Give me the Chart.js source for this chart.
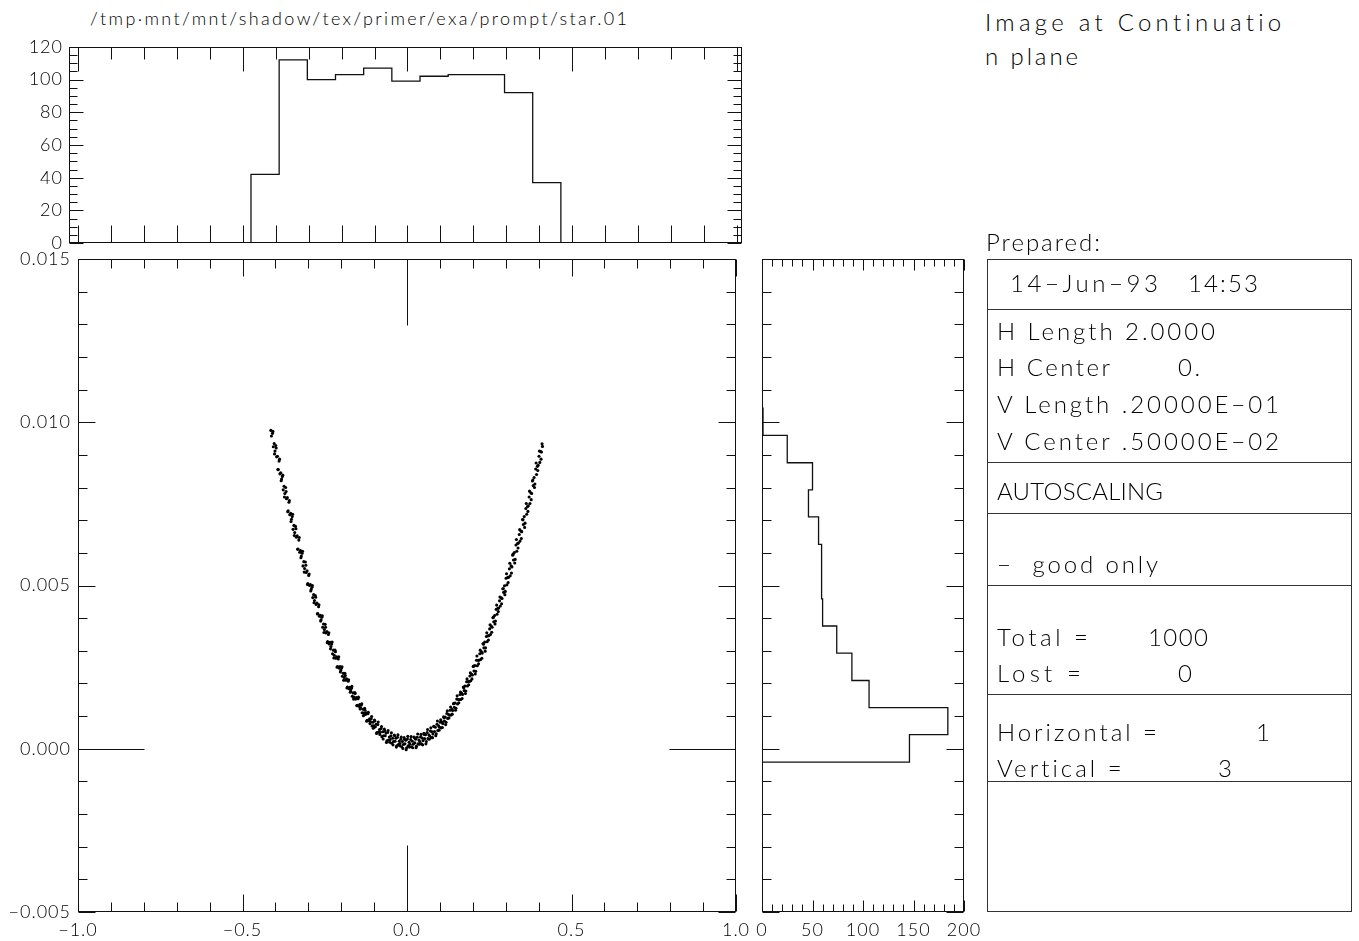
<!DOCTYPE html>
<html>
<head>
<meta charset="utf-8">
<title>star.01 - Image at Continuation plane</title>
<script src="https://cdn.jsdelivr.net/npm/chart.js@4.4.1/dist/chart.umd.min.js"></script>
<style>
  html, body { margin: 0; padding: 0; background: #fff; }
  body {
    width: 1359px; height: 941px; position: relative; overflow: hidden;
    font-family: Lato, "Noto Sans", "DejaVu Sans", sans-serif; font-weight: 300; color: #000;
  }
  canvas { position: absolute; }
  .t { position: absolute; white-space: pre; line-height: 1; transform: translateY(-50%); }
  .panel { position: absolute; left: 987px; top: 259px; width: 365px; height: 653px;
           border: 1px solid #333; box-sizing: border-box; }
  .sep { position: absolute; left: 987px; width: 365px; height: 0; border-top: 1px solid #333; }
</style>
</head>
<body>

<canvas id="topHist" width="760" height="230" style="left:0;top:30px"></canvas>
<canvas id="mainPlot" width="760" height="701" style="left:0;top:240px"></canvas>
<canvas id="sideHist" width="260" height="701" style="left:740px;top:240px"></canvas>

<!-- titles -->
<div class="t" style="left:90px;top:18px;font-size:18px" data-w="537">/tmp·mnt/mnt/shadow/tex/primer/exa/prompt/star.01</div>
<div class="t" style="left:985px;top:22px;font-size:24px" data-w="297">Image at Continuatio</div>
<div class="t" style="left:985px;top:56px;font-size:24px" data-w="93">n plane</div>
<div class="t" style="left:986px;top:242px;font-size:24px" data-w="114">Prepared:</div>

<!-- info panel -->
<div class="panel"></div>
<div class="sep" style="top:309px"></div>
<div class="sep" style="top:462px"></div>
<div class="sep" style="top:513px"></div>
<div class="sep" style="top:585px"></div>
<div class="sep" style="top:694px"></div>
<div class="sep" style="top:781px"></div>

<div class="t" style="left:1010px;top:283px;font-size:24px" data-w="148">14−Jun−93</div>
<div class="t" style="left:1188px;top:283px;font-size:24px" data-w="70">14:53</div>
<div class="t" style="left:997px;top:331px;font-size:24px" data-w="218">H Length 2.0000</div>
<div class="t" style="left:997px;top:367px;font-size:24px" data-w="113">H Center</div>
<div class="t" style="left:1178px;top:367px;font-size:24px" data-w="22">0.</div>
<div class="t" style="left:997px;top:404px;font-size:24px" data-w="282">V Length .20000E−01</div>
<div class="t" style="left:997px;top:441px;font-size:24px" data-w="282">V Center .50000E−02</div>
<div class="t" style="left:997px;top:491px;font-size:24px" data-w="166">AUTOSCALING</div>
<div class="t" style="left:997px;top:564px;font-size:24px" data-w="161">−  good only</div>
<div class="t" style="left:997px;top:637px;font-size:24px" data-w="91">Total =</div>
<div class="t" style="left:1148px;top:637px;font-size:24px" data-w="60">1000</div>
<div class="t" style="left:997px;top:673px;font-size:24px" data-w="84">Lost =</div>
<div class="t" style="left:1178px;top:673px;font-size:24px">0</div>
<div class="t" style="left:997px;top:732px;font-size:24px" data-w="160">Horizontal =</div>
<div class="t" style="left:1256px;top:732px;font-size:24px">1</div>
<div class="t" style="left:997px;top:768px;font-size:24px" data-w="125">Vertical =</div>
<div class="t" style="left:1218px;top:768px;font-size:24px">3</div>

<script>
// top histogram (horizontal coordinate), bin edges and counts
const topEdges = [-0.475, -0.3895, -0.304, -0.2185, -0.133, -0.0475, 0.038, 0.1235, 0.209, 0.2945, 0.380, 0.4655];
const topCounts = [42, 112, 100, 103, 107, 99, 102, 103, 103, 92, 37];

// side histogram (vertical coordinate), bin edges bottom -> top and counts
const sideEdges = [-0.00041, 0.00043, 0.00126, 0.00209, 0.00293, 0.00376, 0.00459, 0.00543,
                   0.00626, 0.00710, 0.00793, 0.00876, 0.00960, 0.01043];
const sideCounts = [146, 184, 106, 89, 74, 60, 59, 59, 56, 46, 50, 25, 1];

// tick labels
const mainXTicks = [-1, -0.5, 0, 0.5, 1];
const mainYTicks = [-0.005, 0, 0.005, 0.010, 0.015];
const topYTicks = [0, 20, 40, 60, 80, 100, 120];
const sideXTicks = [0, 50, 100, 150, 200];

// ray positions, [x, y]
const leftBranch = [
  [-0.4138,0.00975],[-0.4121,0.00958],
  [-0.4088,0.00966],[-0.4063,0.00925],[-0.4037,0.00935],[-0.4012,0.00912],
  [-0.3988,0.00929],[-0.3963,0.00894],[-0.3937,0.00896],[-0.3912,0.00855],
  [-0.3888,0.00881],[-0.3863,0.00842],[-0.3837,0.00845],[-0.3812,0.00826],
  [-0.3788,0.00834],[-0.3763,0.00793],[-0.3737,0.00804],[-0.3712,0.00782],
  [-0.3688,0.00800],[-0.3663,0.00766],[-0.3637,0.00769],[-0.3612,0.00729],
  [-0.3588,0.00755],[-0.3563,0.00717],[-0.3537,0.00721],[-0.3512,0.00703],
  [-0.3488,0.00711],[-0.3463,0.00672],[-0.3437,0.00684],[-0.3412,0.00662],
  [-0.3388,0.00681],[-0.3363,0.00648],[-0.3337,0.00652],[-0.3312,0.00612],
  [-0.3288,0.00639],[-0.3263,0.00602],[-0.3237,0.00607],[-0.3212,0.00590],
  [-0.3188,0.00599],[-0.3163,0.00560],[-0.3137,0.00573],[-0.3112,0.00552],
  [-0.3088,0.00572],[-0.3063,0.00540],[-0.3037,0.00545],[-0.3012,0.00506],
  [-0.2988,0.00531],[-0.2963,0.00500],[-0.2937,0.00503],[-0.2912,0.00488],
  [-0.2888,0.00495],[-0.2863,0.00463],[-0.2837,0.00472],[-0.2812,0.00454],
  [-0.2788,0.00469],[-0.2763,0.00442],[-0.2737,0.00446],[-0.2712,0.00414],
  [-0.2688,0.00435],[-0.2663,0.00406],[-0.2637,0.00409],[-0.2612,0.00395],
  [-0.2588,0.00403],[-0.2563,0.00372],[-0.2537,0.00382],[-0.2512,0.00365],
  [-0.2488,0.00381],[-0.2463,0.00355],[-0.2437,0.00359],[-0.2412,0.00328],
  [-0.2388,0.00350],[-0.2363,0.00321],[-0.2337,0.00326],[-0.2312,0.00313],
  [-0.2288,0.00321],[-0.2263,0.00291],[-0.2237,0.00302],[-0.2212,0.00286],
  [-0.2188,0.00302],[-0.2163,0.00277],[-0.2137,0.00282],[-0.2112,0.00252],
  [-0.2088,0.00275],[-0.2063,0.00247],[-0.2037,0.00252],[-0.2012,0.00240],
  [-0.1988,0.00247],[-0.1963,0.00222],[-0.1937,0.00231],[-0.1912,0.00218],
  [-0.1888,0.00231],[-0.1863,0.00210],[-0.1837,0.00214],[-0.1812,0.00189],
  [-0.1788,0.00207],[-0.1763,0.00184],[-0.1737,0.00188],[-0.1712,0.00178],
  [-0.1688,0.00185],[-0.1663,0.00161],[-0.1637,0.00171],[-0.1612,0.00158],
  [-0.1588,0.00172],[-0.1563,0.00152],[-0.1537,0.00157],[-0.1512,0.00133],
  [-0.1488,0.00153],[-0.1463,0.00130],[-0.1437,0.00135],[-0.1412,0.00126],
  [-0.1388,0.00134],[-0.1363,0.00110],[-0.1337,0.00121],[-0.1312,0.00109],
  [-0.1288,0.00124],[-0.1263,0.00105],[-0.1237,0.00110],[-0.1212,0.00087],
  [-0.1188,0.00107],[-0.1163,0.00086],[-0.1137,0.00092],[-0.1112,0.00083],
  [-0.1088,0.00092],[-0.1063,0.00070],[-0.1037,0.00081],[-0.1012,0.00070],
  [-0.0988,0.00088],[-0.0963,0.00067],[-0.0937,0.00075],[-0.0912,0.00050],
  [-0.0888,0.00074],[-0.0863,0.00051],[-0.0837,0.00059],[-0.0812,0.00051],
  [-0.0788,0.00062],[-0.0763,0.00037],[-0.0737,0.00052],[-0.0712,0.00040],
  [-0.0688,0.00060],[-0.0663,0.00040],[-0.0637,0.00048],[-0.0612,0.00024],
  [-0.0588,0.00050],[-0.0563,0.00027],[-0.0537,0.00036],[-0.0512,0.00028],
  [-0.0488,0.00040],[-0.0463,0.00017],[-0.0437,0.00032],[-0.0412,0.00022],
  [-0.0388,0.00042],[-0.0363,0.00023],[-0.0337,0.00032],[-0.0312,0.00009],
  [-0.0288,0.00035],[-0.0263,0.00013],[-0.0237,0.00023],[-0.0212,0.00016],
  [-0.0188,0.00029],[-0.0163,0.00006],[-0.0137,0.00022],[-0.0112,0.00013],
  [-0.0088,0.00034],[-0.0063,0.00015],[-0.0037,0.00026],[-0.0012,0.00003],
  // second pass, the wider part of the band
  [-0.4075,0.00972],[-0.4025,0.00903],[-0.3975,0.00921],[-0.3925,0.00855],
  [-0.3875,0.00887],[-0.3825,0.00821],[-0.3775,0.00838],[-0.3725,0.00771],
  [-0.3675,0.00788],[-0.3625,0.00726],[-0.3575,0.00760],[-0.3525,0.00696],
  [-0.3475,0.00718],[-0.3425,0.00653],[-0.3375,0.00674],[-0.3325,0.00611],
  [-0.3275,0.00647],[-0.3225,0.00585],[-0.3175,0.00605],[-0.3125,0.00541],
  [-0.3075,0.00562],[-0.3025,0.00503],[-0.2975,0.00535],[-0.2925,0.00483],
  [-0.2875,0.00500],[-0.2825,0.00447],[-0.2775,0.00464],[-0.2725,0.00413],
  [-0.2675,0.00441],[-0.2625,0.00391],[-0.2575,0.00407],[-0.2525,0.00356],
  [-0.2475,0.00372],[-0.2425,0.00325],[-0.2375,0.00355],[-0.2325,0.00306],
  [-0.2275,0.00327],[-0.2225,0.00278],[-0.2175,0.00297],[-0.2125,0.00250],
  [-0.2075,0.00282],[-0.2025,0.00235],[-0.1975,0.00251],[-0.1925,0.00210],
  [-0.1875,0.00224],[-0.1825,0.00186],[-0.1775,0.00211],[-0.1725,0.00173],
  [-0.1675,0.00191],[-0.1625,0.00152],[-0.1575,0.00169],[-0.1525,0.00132],
  [-0.1475,0.00158],[-0.1425,0.00122],[-0.1375,0.00138],[-0.1325,0.00101],
  [-0.1275,0.00118],[-0.1225,0.00084],[-0.1175,0.00112],[-0.1125,0.00077],
  [-0.1075,0.00099],[-0.1025,0.00063],[-0.0975,0.00085],[-0.0925,0.00047],
  [-0.0875,0.00082],[-0.0825,0.00044],[-0.0775,0.00068],[-0.0725,0.00030],
  [-0.0675,0.00054],[-0.0625,0.00019],[-0.0575,0.00056],[-0.0525,0.00020],
  [-0.0475,0.00049],[-0.0425,0.00012],[-0.0375,0.00040],[-0.0325,0.00005],
  [-0.0275,0.00043],[-0.0225,0.00009],[-0.0175,0.00036],[-0.0125,0.00001],
  [-0.0075,0.00029],[-0.0025,-0.00003]
];
const rightBranch = [
  [0.0012,0.00030],[0.0037,0.00009],[0.0063,0.00020],[0.0088,0.00014],
  [0.0112,0.00028],[0.0137,0.00006],[0.0163,0.00023],[0.0188,0.00014],
  [0.0212,0.00036],[0.0237,0.00018],[0.0263,0.00029],[0.0288,0.00008],
  [0.0312,0.00035],[0.0337,0.00015],[0.0363,0.00027],[0.0388,0.00022],
  [0.0412,0.00036],[0.0437,0.00015],[0.0463,0.00033],[0.0488,0.00025],
  [0.0512,0.00047],[0.0537,0.00031],[0.0563,0.00043],[0.0588,0.00022],
  [0.0612,0.00050],[0.0637,0.00031],[0.0663,0.00043],[0.0688,0.00039],
  [0.0712,0.00054],[0.0737,0.00034],[0.0763,0.00052],[0.0788,0.00045],
  [0.0812,0.00069],[0.0837,0.00053],[0.0863,0.00066],[0.0888,0.00046],
  [0.0912,0.00075],[0.0937,0.00056],[0.0963,0.00070],[0.0988,0.00066],
  [0.1012,0.00081],[0.1037,0.00064],[0.1063,0.00082],[0.1088,0.00077],
  [0.1112,0.00098],[0.1137,0.00085],[0.1163,0.00097],[0.1188,0.00081],
  [0.1212,0.00108],[0.1237,0.00093],[0.1263,0.00105],[0.1288,0.00103],
  [0.1312,0.00118],[0.1337,0.00103],[0.1363,0.00121],[0.1388,0.00117],
  [0.1412,0.00138],[0.1437,0.00127],[0.1463,0.00140],[0.1488,0.00124],
  [0.1512,0.00152],[0.1537,0.00137],[0.1563,0.00151],[0.1588,0.00150],
  [0.1612,0.00166],[0.1637,0.00151],[0.1663,0.00170],[0.1688,0.00166],
  [0.1712,0.00189],[0.1737,0.00178],[0.1763,0.00192],[0.1788,0.00177],
  [0.1812,0.00205],[0.1837,0.00192],[0.1863,0.00206],[0.1888,0.00206],
  [0.1912,0.00223],[0.1937,0.00208],[0.1963,0.00228],[0.1988,0.00226],
  [0.2012,0.00252],[0.2037,0.00238],[0.2063,0.00255],[0.2088,0.00237],
  [0.2112,0.00271],[0.2137,0.00254],[0.2163,0.00271],[0.2188,0.00271],
  [0.2212,0.00291],[0.2237,0.00273],[0.2263,0.00297],[0.2288,0.00293],
  [0.2312,0.00322],[0.2337,0.00309],[0.2363,0.00327],[0.2388,0.00309],
  [0.2412,0.00344],[0.2437,0.00328],[0.2463,0.00346],[0.2488,0.00346],
  [0.2512,0.00367],[0.2537,0.00350],[0.2563,0.00375],[0.2588,0.00372],
  [0.2612,0.00401],[0.2637,0.00389],[0.2663,0.00408],[0.2688,0.00391],
  [0.2712,0.00427],[0.2737,0.00412],[0.2763,0.00430],[0.2788,0.00431],
  [0.2812,0.00453],[0.2837,0.00437],[0.2863,0.00462],[0.2888,0.00460],
  [0.2912,0.00490],[0.2937,0.00479],[0.2963,0.00499],[0.2988,0.00482],
  [0.3012,0.00522],[0.3037,0.00502],[0.3063,0.00525],[0.3088,0.00525],
  [0.3112,0.00551],[0.3137,0.00530],[0.3163,0.00560],[0.3188,0.00557],
  [0.3212,0.00593],[0.3237,0.00578],[0.3263,0.00601],[0.3288,0.00580],
  [0.3312,0.00624],[0.3337,0.00605],[0.3363,0.00629],[0.3388,0.00630],
  [0.3412,0.00656],[0.3437,0.00636],[0.3463,0.00667],[0.3488,0.00665],
  [0.3512,0.00702],[0.3537,0.00687],[0.3563,0.00711],[0.3588,0.00691],
  [0.3612,0.00736],[0.3637,0.00718],[0.3663,0.00742],[0.3688,0.00744],
  [0.3712,0.00771],[0.3737,0.00751],[0.3763,0.00784],[0.3788,0.00782],
  [0.3812,0.00820],[0.3837,0.00806],[0.3863,0.00831],[0.3888,0.00811],
  [0.3912,0.00857],[0.3937,0.00840],[0.3963,0.00865],[0.3988,0.00868],
  [0.4012,0.00896],[0.4037,0.00877],[0.4063,0.00910],[0.4088,0.00909],
  [0.4105,0.00934],[0.4118,0.00926],
  // second pass, the wider part of the band
  [0.0025,0.00038],[0.0075,0.00005],[0.0125,0.00037],[0.0175,0.00003],
  [0.0225,0.00034],[0.0275,0.00003],[0.0325,0.00045],[0.0375,0.00014],
  [0.0425,0.00044],[0.0475,0.00012],[0.0525,0.00044],[0.0575,0.00015],
  [0.0625,0.00059],[0.0675,0.00029],[0.0725,0.00064],[0.0775,0.00034],
  [0.0825,0.00068],[0.0875,0.00040],[0.0925,0.00085],[0.0975,0.00057],
  [0.1025,0.00089],[0.1075,0.00065],[0.1125,0.00095],[0.1175,0.00074],
  [0.1225,0.00116],[0.1275,0.00094],[0.1325,0.00128],[0.1375,0.00106],
  [0.1425,0.00139],[0.1475,0.00118],[0.1525,0.00162],[0.1575,0.00141],
  [0.1625,0.00174],[0.1675,0.00154],[0.1725,0.00187],[0.1775,0.00169],
  [0.1825,0.00214],[0.1875,0.00196],[0.1925,0.00233],[0.1975,0.00214],
  [0.2025,0.00253],[0.2075,0.00229],[0.2125,0.00284],[0.2175,0.00260],
  [0.2225,0.00302],[0.2275,0.00277],[0.2325,0.00320],[0.2375,0.00299],
  [0.2425,0.00355],[0.2475,0.00333],[0.2525,0.00380],[0.2575,0.00357],
  [0.2625,0.00403],[0.2675,0.00382],[0.2725,0.00440],[0.2775,0.00420],
  [0.2825,0.00465],[0.2875,0.00444],[0.2925,0.00490],[0.2975,0.00472],
  [0.3025,0.00536],[0.3075,0.00509],[0.3125,0.00568],[0.3175,0.00538],
  [0.3225,0.00596],[0.3275,0.00569],[0.3325,0.00641],[0.3375,0.00615],
  [0.3425,0.00671],[0.3475,0.00644],[0.3525,0.00701],[0.3575,0.00678],
  [0.3625,0.00751],[0.3675,0.00727],[0.3725,0.00789],[0.3775,0.00763],
  [0.3825,0.00823],[0.3875,0.00800],[0.3925,0.00875],[0.3975,0.00852],
  [0.4025,0.00912],[0.4075,0.00887]
];

// stretch the text to the widths of the original stroke font
document.querySelectorAll('[data-w]').forEach((el) => {
  const n = el.textContent.length;
  const natural = el.getBoundingClientRect().width;
  if (n > 1) el.style.letterSpacing = ((+el.dataset.w - natural) / (n - 1)) + 'px';
});

const FONT = { family: 'Lato, "Noto Sans", "DejaVu Sans", sans-serif', size: 18, weight: '300' };
const INK = '#111';

// tick marks: [value, length]
function tickList(from, to, step, majorEvery, minorLen, majorLen) {
  const out = [];
  const n = Math.round((to - from) / step);
  for (let i = 0; i <= n; i++) {
    out.push([from + i * step, i % majorEvery === 0 ? majorLen : minorLen]);
  }
  return out;
}

const minus = (s) => s.replace('-', '\u2212');

// the old stroke font is wider than Lato, open the tick labels a little
const spacingPlugin = {
  id: 'spacing',
  beforeDraw(chart) { chart.ctx.letterSpacing = '1px'; }
};

// frame with inward ticks on all four sides, like the old plotting package
const framePlugin = {
  id: 'frame',
  afterDatasetsDraw(chart, args, opts) {
    const { ctx, chartArea: a, scales } = chart;
    const xs = scales.x, ys = scales.y;
    const L = Math.round(a.left) + 0.5, R = Math.round(a.right) - 0.5;
    const T = Math.round(a.top) + 0.5, B = Math.round(a.bottom) - 0.5;
    ctx.save();
    ctx.strokeStyle = INK;
    ctx.lineWidth = 1;
    ctx.strokeRect(L, T, R - L, B - T);
    ctx.beginPath();
    const xp = (v) => Math.round(xs.getPixelForValue(v)) + 0.5;
    const yp = (v) => Math.round(ys.getPixelForValue(v)) + 0.5;
    (opts.top || []).forEach(([v, len]) => { ctx.moveTo(xp(v), T); ctx.lineTo(xp(v), T + len); });
    (opts.bottom || []).forEach(([v, len]) => { ctx.moveTo(xp(v), B); ctx.lineTo(xp(v), B - len); });
    (opts.left || []).forEach(([v, len]) => { ctx.moveTo(L, yp(v)); ctx.lineTo(L + len, yp(v)); });
    (opts.right || []).forEach(([v, len]) => { ctx.moveTo(R, yp(v)); ctx.lineTo(R - len, yp(v)); });
    if (opts.cross) {
      const c = opts.cross;
      ctx.moveTo(xp(c.x), T); ctx.lineTo(xp(c.x), T + c.len);
      ctx.moveTo(xp(c.x), B); ctx.lineTo(xp(c.x), B - c.len);
      ctx.moveTo(L, yp(c.y)); ctx.lineTo(L + c.len, yp(c.y));
      ctx.moveTo(R, yp(c.y)); ctx.lineTo(R - c.len, yp(c.y));
    }
    ctx.stroke();
    ctx.restore();
  }
};

const baseOptions = {
  responsive: false,
  animation: false,
  devicePixelRatio: 1,
  events: [],
  plugins: { legend: { display: false }, tooltip: { enabled: false } }
};

// ---------- top histogram ----------
const topOutline = [{ x: topEdges[0], y: 0 }];
topCounts.forEach((c, i) => {
  topOutline.push({ x: topEdges[i], y: c }, { x: topEdges[i + 1], y: c });
});
topOutline.push({ x: topEdges[topEdges.length - 1], y: 0 });

new Chart(document.getElementById('topHist'), {
  type: 'scatter',
  data: {
    datasets: [{
      data: topOutline, showLine: true, pointRadius: 0,
      borderColor: INK, borderWidth: 1.3, tension: 0
    }]
  },
  options: {
    ...baseOptions,
    layout: { padding: { left: 0, right: 18, top: 15, bottom: 13 } },
    plugins: {
      ...baseOptions.plugins,
      frame: {
        top: tickList(-1, 1, 0.1, 5, 12, 24),
        bottom: tickList(-1, 1, 0.1, 5, 17, 17),
        left: tickList(0, 120, 5, 4, 8, 14),
        right: tickList(0, 120, 5, 4, 8, 14)
      }
    },
    scales: {
      x: { type: 'linear', display: false, min: -1.0273, max: 1.0152 },
      y: {
        type: 'linear', min: 0, max: 120,
        afterBuildTicks: (s) => { s.ticks = topYTicks.map((v) => ({ value: v })); },
        afterFit: (s) => { s.width = 69; },
        grid: { display: false, drawTicks: false },
        border: { display: false },
        ticks: { padding: 6, font: FONT, color: '#000', callback: (v) => String(v) }
      }
    }
  },
  plugins: [spacingPlugin, framePlugin]
});

// ---------- main scatter ----------
const beam = leftBranch.concat(rightBranch).map(([x, y]) => ({ x, y }));

new Chart(document.getElementById('mainPlot'), {
  type: 'scatter',
  data: {
    datasets: [{
      data: beam, pointRadius: 1.55, pointStyle: 'circle',
      backgroundColor: '#000', borderWidth: 0
    }]
  },
  options: {
    ...baseOptions,
    layout: { padding: { left: 0, right: 24, top: 19, bottom: 0 } },
    plugins: {
      ...baseOptions.plugins,
      frame: {
        top: tickList(-1, 1, 0.1, 5, 9, 17),
        bottom: tickList(-1, 1, 0.1, 5, 9, 17),
        left: tickList(-0.005, 0.015, 0.001, 5, 9, 17),
        right: tickList(-0.005, 0.015, 0.001, 5, 9, 17),
        cross: { x: 0, y: 0, len: 66 }
      }
    },
    scales: {
      x: {
        type: 'linear', min: -1, max: 1,
        afterBuildTicks: (s) => { s.ticks = mainXTicks.map((v) => ({ value: v })); },
        afterFit: (s) => { s.height = 29; },
        grid: { display: false, drawTicks: false },
        border: { display: false },
        ticks: { padding: 7, font: FONT, color: '#000', maxRotation: 0, autoSkip: false,
                 callback: (v) => minus(v.toFixed(1)) }
      },
      y: {
        type: 'linear', min: -0.005, max: 0.015,
        afterBuildTicks: (s) => { s.ticks = mainYTicks.map((v) => ({ value: v })); },
        afterFit: (s) => { s.width = 78; },
        grid: { display: false, drawTicks: false },
        border: { display: false },
        ticks: { padding: 7, font: FONT, color: '#000',
                 callback: (v) => minus((Math.abs(v) < 1e-9 ? 0 : v).toFixed(3)) }
      }
    }
  },
  plugins: [spacingPlugin, framePlugin]
});

// ---------- side histogram ----------
const lastEdge = sideEdges.length - 1;
const sideOutline = [{ x: 0, y: sideEdges[lastEdge] }];
for (let i = sideCounts.length - 1; i >= 0; i--) {
  sideOutline.push({ x: sideCounts[i], y: sideEdges[i + 1] }, { x: sideCounts[i], y: sideEdges[i] });
}
sideOutline.push({ x: 0, y: sideEdges[0] });

new Chart(document.getElementById('sideHist'), {
  type: 'scatter',
  data: {
    datasets: [{
      data: sideOutline, showLine: true, pointRadius: 0,
      borderColor: INK, borderWidth: 1.3, tension: 0
    }]
  },
  options: {
    ...baseOptions,
    layout: { padding: { left: 22, right: 36, top: 19, bottom: 0 } },
    plugins: {
      ...baseOptions.plugins,
      frame: {
        top: tickList(0, 200, 10, 5, 7, 11),
        bottom: tickList(0, 200, 10, 5, 7, 11),
        left: tickList(-0.005, 0.015, 0.001, 5, 9, 17),
        right: tickList(-0.005, 0.015, 0.001, 5, 9, 17)
      }
    },
    scales: {
      x: {
        type: 'linear', min: 0, max: 200,
        afterBuildTicks: (s) => { s.ticks = sideXTicks.map((v) => ({ value: v })); },
        afterFit: (s) => { s.height = 29; },
        grid: { display: false, drawTicks: false },
        border: { display: false },
        ticks: { padding: 7, font: FONT, color: '#000', maxRotation: 0, autoSkip: false,
                 callback: (v) => String(v) }
      },
      y: { type: 'linear', display: false, min: -0.005, max: 0.015 }
    }
  },
  plugins: [spacingPlugin, framePlugin]
});
</script>
</body>
</html>
